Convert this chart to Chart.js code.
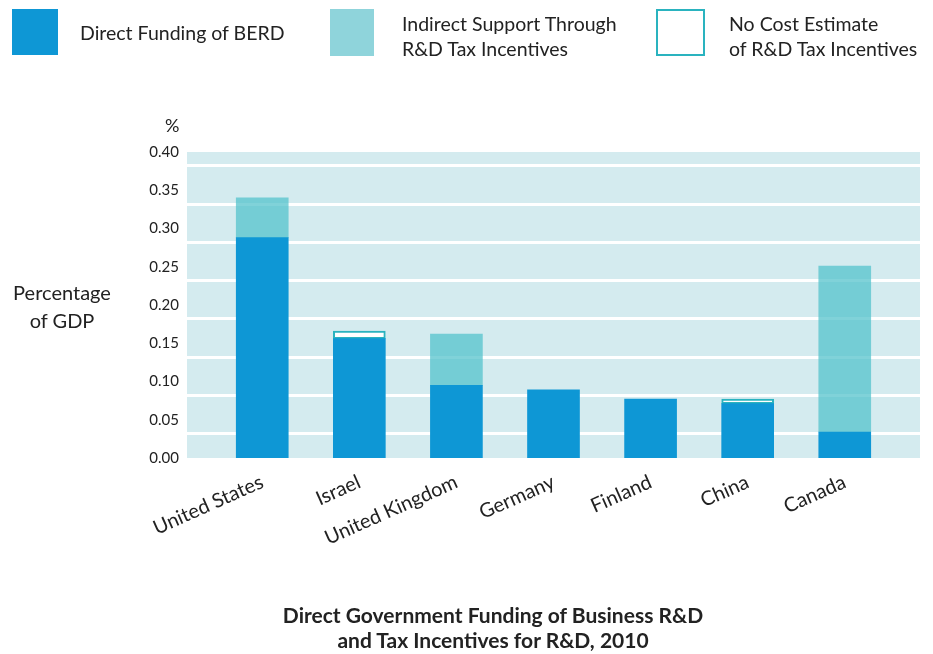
<!DOCTYPE html>
<html>
<head>
<meta charset="utf-8">
<script src="https://cdn.jsdelivr.net/npm/chart.js@4.4.1/dist/chart.umd.min.js"></script>
<style>
  body { margin: 0; background: #fff; font-family: Lato, "Open Sans", sans-serif; color: #222; }
  #wrap { position: relative; width: 933px; height: 654px; }
  canvas { position: absolute; left: 0; top: 0; }
  .sw { position: absolute; box-sizing: border-box; }
  .lg { position: absolute; font-size: 19.5px; line-height: 25px; }
  #ylab { position: absolute; left: 0; top: 278px; width: 124px; text-align: center; font-size: 20px; line-height: 28px; }
  #pct { position: absolute; left: 165px; top: 114px; font-size: 18px; }
  #title { position: absolute; left: 193px; top: 602px; width: 600px; text-align: center; font-size: 21px; font-weight: bold; line-height: 25px; }
</style>
</head>
<body>
<div id="wrap">
  <canvas id="chart" width="933" height="654"></canvas>
  <div class="sw" style="left:12px;top:9px;width:46px;height:46px;background:#0e97d5"></div>
  <div class="lg" style="left:80px;top:20px">Direct Funding of BERD</div>
  <div class="sw" style="left:330px;top:9px;width:44px;height:47px;background:#8fd4db"></div>
  <div class="lg" style="left:402px;top:11px">Indirect Support Through<br>R&amp;D Tax Incentives</div>
  <div class="sw" style="left:656px;top:9px;width:49px;height:47px;border:2px solid #2ab3bf;background:#fff"></div>
  <div class="lg" style="left:729px;top:11px">No Cost Estimate<br>of R&amp;D Tax Incentives</div>
  <div id="pct">%</div>
  <div id="ylab">Percentage<br>of GDP</div>
  <div id="title">Direct Government Funding of Business R&amp;D<br>and Tax Incentives for R&amp;D, 2010</div>
</div>
<script>
// data (% of GDP)
var countries = ["United States", "Israel", "United Kingdom", "Germany", "Finland", "China", "Canada"];
var directFunding = [0.288, 0.156, 0.095, 0.089, 0.077, 0.071, 0.034];
var indirectSupport = [0.052, null, 0.067, null, null, null, 0.217];
var noCostEstimate = [null, 0.010, null, null, null, 0.006, null];
var yTicks = [0, 0.05, 0.10, 0.15, 0.20, 0.25, 0.30, 0.35, 0.40];

// white grid lines in the original sit a little above each tick
var gridOffset = 0.032;

function points(arr) {
    var out = [];
    for (var i = 0; i < arr.length; i++) {
        out.push({ x: i, y: arr[i] });
    }
    return out;
}

var plotBg = {
    id: "plotBg",
    beforeDraw: function(chart) {
        var a = chart.chartArea;
        var ctx = chart.ctx;
        ctx.save();
        ctx.fillStyle = "#d4ebef";
        ctx.fillRect(a.left, a.top, a.right - a.left, a.bottom - a.top);
        ctx.restore();
    }
};

var ctx = document.getElementById("chart").getContext("2d");
new Chart(ctx, {
    type: "bar",
    data: {
        datasets: [
            { label: "Direct Funding of BERD", data: points(directFunding), backgroundColor: "#0e97d5", barThickness: 52, borderWidth: 0 },
            { label: "Indirect Support Through R&D Tax Incentives", data: points(indirectSupport), backgroundColor: "rgba(79,192,202,0.72)", barThickness: 52, borderWidth: 0 },
            { label: "No Cost Estimate of R&D Tax Incentives", data: points(noCostEstimate), backgroundColor: "#ffffff", borderColor: "#2ab3bf", borderWidth: 2, borderSkipped: false, barThickness: 52 }
        ]
    },
    options: {
        responsive: false,
        animation: false,
        layout: { padding: { top: 152, right: 13, bottom: 0, left: 0 } },
        plugins: { legend: { display: false }, title: { display: false }, tooltip: { enabled: false } },
        scales: {
            x: {
                type: "linear",
                stacked: true,
                offset: false,
                min: -0.775,
                max: 6.775,
                afterBuildTicks: function(axis) {
                    axis.ticks = countries.map(function(c, i) { return { value: i }; });
                },
                afterFit: function(axis) { axis.height = 196; },
                grid: { display: false, offset: false },
                border: { display: false },
                ticks: {
                    autoSkip: false,
                    minRotation: 24,
                    maxRotation: 24,
                    padding: 4,
                    color: "#222",
                    font: { family: "Lato", size: 20 },
                    callback: function(v) { return countries[v]; }
                }
            },
            y: {
                stacked: true,
                min: 0,
                max: 0.4,
                afterBuildTicks: function(axis) {
                    axis.ticks = yTicks.map(function(v) { return { value: v }; });
                },
                afterFit: function(axis) { axis.width = 187; },
                grid: { display: false },
                border: { display: false },
                ticks: {
                    padding: 0,
                    color: "#222",
                    font: { family: "Lato", size: 15 },
                    callback: function(v) { return v.toFixed(2); }
                }
            },
            yGrid: {
                position: "left",
                min: 0,
                max: 0.4,
                afterBuildTicks: function(axis) {
                    axis.ticks = yTicks.slice(0, 8).map(function(v) { return { value: v + gridOffset }; });
                },
                afterFit: function(axis) { axis.width = 0; },
                ticks: { display: false },
                border: { display: false },
                grid: { color: "#ffffff", lineWidth: 3, drawTicks: false }
            }
        }
    },
    plugins: [plotBg]
});
</script>
</body>
</html>
